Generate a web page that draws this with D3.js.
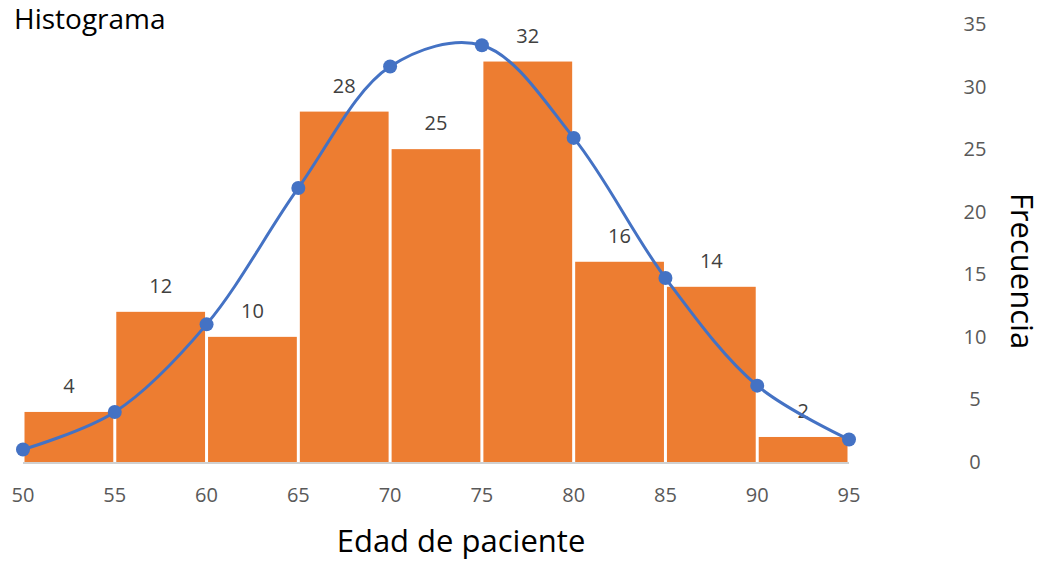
<!DOCTYPE html>
<html><head><meta charset="utf-8">
<script src="https://cdn.jsdelivr.net/npm/d3@7"></script>
<style>body{margin:0;background:#fff;} svg{display:block;}</style>
</head><body>
<svg id="c" width="1045" height="561"></svg>
<script>
const binStarts = [50,55,60,65,70,75,80,85,90];
const binWidth = 5;
const frequencies = [4,12,10,28,25,32,16,14,2];
const curveX = [50,55,60,65,70,75,80,85,90,95];
const curveY = [1.0,4.0,11.0,21.9,31.6,33.3,25.9,14.7,6.1,1.8];
const xTicks = [50,55,60,65,70,75,80,85,90,95];
const yTicks = [0,5,10,15,20,25,30,35];

const svg = d3.select("#c");
const font = "'Open Sans', 'Noto Sans', sans-serif";
const x = d3.scaleLinear().domain([50,95]).range([23,849]);
const y = d3.scaleLinear().domain([0,35]).range([462,24]);

// bars
svg.append("g").selectAll("rect").data(binStarts).join("rect")
  .attr("x", (d)=>x(d)+1.5)
  .attr("width", (d)=>x(d+binWidth)-x(d)-3)
  .attr("y", (d,i)=>y(frequencies[i]))
  .attr("height", (d,i)=>y(0)-y(frequencies[i]))
  .attr("fill", "#ED7D31");

// axis line
svg.append("line").attr("x1", x(50)).attr("x2", x(95)).attr("y1", y(0)+1).attr("y2", y(0)+1)
  .attr("stroke", "#D0D0D0").attr("stroke-width", 2);

// bar labels
svg.append("g").selectAll("text").data(binStarts).join("text")
  .attr("x", d=>x(d+binWidth/2))
  .attr("y", (d,i)=>y(frequencies[i])-19)
  .attr("text-anchor","middle")
  .attr("font-family", font).attr("font-size", 20).attr("fill", "#404040")
  .text((d,i)=>frequencies[i]);

// curve
const pts = curveX.map((d,i)=>[x(d), y(curveY[i])]);
svg.append("path").attr("d", d3.line().curve(d3.curveCatmullRom.alpha(0.5))(pts))
  .attr("fill","none").attr("stroke","#4472C4").attr("stroke-width",3);
svg.append("g").selectAll("circle").data(pts).join("circle")
  .attr("cx", d=>d[0]).attr("cy", d=>d[1]).attr("r", 7).attr("fill", "#4472C4");

// x tick labels
svg.append("g").selectAll("text").data(xTicks).join("text")
  .attr("x", d=>x(d)).attr("y", 502).attr("text-anchor","middle")
  .attr("font-family", font).attr("font-size", 20).attr("fill", "#595959").text(d=>d);

// right y tick labels
svg.append("g").selectAll("text").data(yTicks).join("text")
  .attr("x", 975).attr("y", d=>y(d)+7).attr("text-anchor","middle")
  .attr("font-family", font).attr("font-size", 20).attr("fill", "#595959").text(d=>d);

// titles
svg.append("text").attr("x", 14).attr("y", 29).attr("font-family", font).attr("font-size", 28)
  .attr("fill", "#000").text("Histograma");
svg.append("text").attr("x", 461).attr("y", 552).attr("text-anchor","middle")
  .attr("font-family", font).attr("font-size", 31).attr("fill", "#000").text("Edad de paciente");
svg.append("text").attr("transform", "translate(1011,271) rotate(90)").attr("text-anchor","middle")
  .attr("font-family", font).attr("font-size", 31).attr("fill", "#000").text("Frecuencia");
</script>
</body></html>
